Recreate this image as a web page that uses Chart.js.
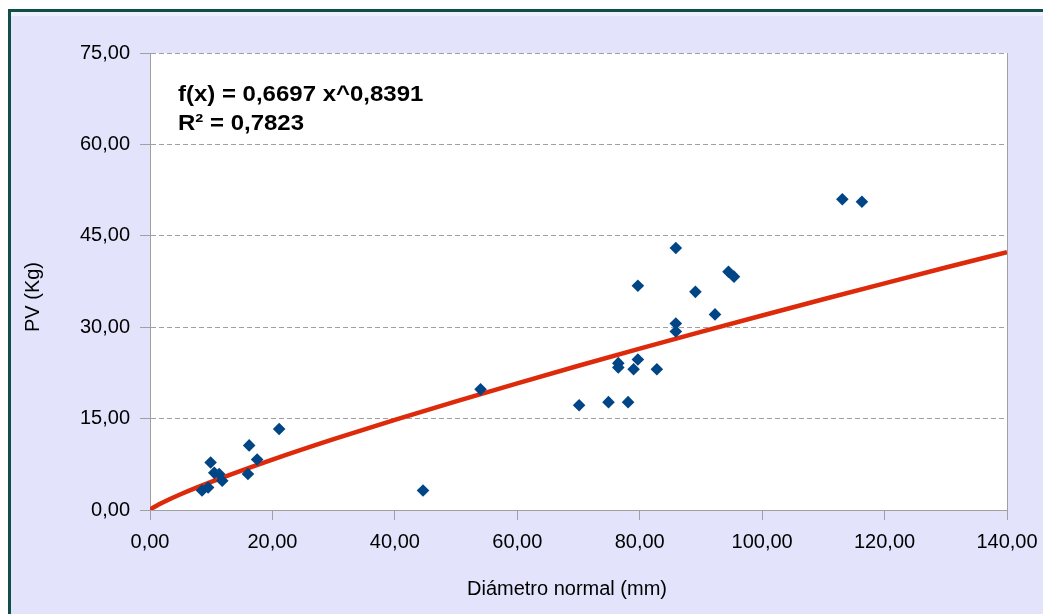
<!DOCTYPE html>
<html>
<head>
<meta charset="utf-8">
<script src="https://cdn.jsdelivr.net/npm/chart.js@4.4.1/dist/chart.umd.min.js"></script>
<style>
  html, body { margin: 0; padding: 0; background: #ffffff; }
  #wrap { width: 1043px; height: 614px; position: relative; }
</style>
</head>
<body>
<div id="wrap"><canvas id="c" width="1043" height="614"></canvas></div>
<script>
// Observed data points: Diámetro normal (mm) vs PV (Kg)
const diametro = [8.5, 9.5, 9.9, 10.5, 11.3, 11.8, 16.0, 16.2, 17.5, 21.1, 44.6, 54.0, 70.1, 74.9, 78.1, 76.5, 76.5, 79.0, 79.7, 82.8, 79.7, 85.9, 85.9, 85.9, 89.1, 92.3, 94.5, 95.4, 113.1, 116.3];
const pv = [3.2, 3.7, 7.8, 6.1, 5.9, 4.8, 5.9, 10.6, 8.3, 13.3, 3.2, 19.8, 17.2, 17.7, 17.7, 24.1, 23.4, 23.1, 24.7, 23.1, 36.8, 43.0, 30.6, 29.3, 35.8, 32.1, 39.1, 38.3, 51.0, 50.6];

// Power trendline
const trendX = [0, 0.5, 1, 2, 5, 10, 20, 30, 40, 50, 60, 70, 80, 90, 100, 110, 120, 130, 140];
const trendY = [0, 0.37, 0.67, 1.20, 2.59, 4.62, 8.27, 11.63, 14.80, 17.84, 20.79, 23.67, 26.48, 29.22, 31.92, 34.58, 37.20, 39.79, 42.33];

// Axis tick values
const yTicks = [0, 15, 30, 45, 60, 75];
const xTicks = [0, 20, 40, 60, 80, 100, 120, 140];

const equationLines = ["f(x) = 0,6697 x^0,8391", "R\u00B2 = 0,7823"];
const xTitle = "Di\u00E1metro normal (mm)";
const yTitle = "PV (Kg)";

const fmt = v => Number(v).toFixed(2).replace('.', ',');

const scatterData = diametro.map((d, i) => ({ x: d, y: pv[i] }));
const trendData = trendX.map((d, i) => ({ x: d, y: trendY[i] }));

const bgPlugin = {
  id: 'bg',
  beforeDraw(chart) {
    const ctx = chart.ctx;
    const W = chart.width, H = chart.height;
    const ca = chart.chartArea;
    ctx.save();
    ctx.fillStyle = '#ffffff';
    ctx.fillRect(0, 0, W, H);
    ctx.fillStyle = '#e3e3fb';
    ctx.fillRect(11, 16, W - 11, H - 16);
    ctx.fillStyle = '#f0f0fd';
    ctx.fillRect(11, 12, W - 11, 4);
    ctx.fillStyle = '#0f4f47';
    ctx.fillRect(8, 9, W - 8, 3);
    ctx.fillRect(8, 9, 3, H - 9);
    ctx.fillStyle = '#ffffff';
    ctx.fillRect(ca.left, ca.top, ca.right - ca.left, ca.bottom - ca.top);
    ctx.restore();
  },
  afterDraw(chart) {
    const ctx = chart.ctx;
    const ca = chart.chartArea;
    ctx.save();
    // right border of plot area
    ctx.strokeStyle = '#a0a0a0';
    ctx.lineWidth = 1;
    ctx.beginPath();
    ctx.moveTo(Math.round(ca.right) + 0.5, ca.top);
    ctx.lineTo(Math.round(ca.right) + 0.5, ca.bottom);
    ctx.stroke();
    // equation text (slightly wide, as in the reference)
    ctx.fillStyle = '#000000';
    ctx.font = 'bold 22px "Liberation Sans", Arial, sans-serif';
    ctx.textBaseline = 'alphabetic';
    ctx.textAlign = 'left';
    ctx.save();
    ctx.translate(178, 101);
    ctx.scale(1.09, 1);
    ctx.fillText(equationLines[0], 0, 0);
    ctx.fillText(equationLines[1], 0, 29);
    ctx.restore();
    // axis titles
    ctx.font = '20px "Liberation Sans", Arial, sans-serif';
    ctx.textAlign = 'center';
    ctx.textBaseline = 'middle';
    ctx.fillText(xTitle, 567, 589);
    ctx.translate(33, 297);
    ctx.rotate(-Math.PI / 2);
    ctx.fillText(yTitle, 0, 0);
    ctx.restore();
  }
};

new Chart(document.getElementById('c'), {
  data: {
    datasets: [
      {
        type: 'line',
        label: 'Tendencia',
        data: trendData,
        borderColor: '#dd2a0a',
        borderWidth: 4.5,
        pointRadius: 0,
        fill: false,
        cubicInterpolationMode: 'monotone',
        order: 2
      },
      {
        type: 'scatter',
        label: 'PV',
        data: scatterData,
        pointStyle: 'rectRot',
        pointRadius: 6.3,
        pointHoverRadius: 6.3,
        backgroundColor: '#004586',
        borderColor: '#004586',
        borderWidth: 0,
        order: 1
      }
    ]
  },
  options: {
    responsive: false,
    animation: false,
    events: [],
    layout: { padding: { left: 0, top: 53, right: 36, bottom: 0 } },
    plugins: {
      legend: { display: false },
      tooltip: { enabled: false },
      title: { display: false }
    },
    scales: {
      x: {
        type: 'linear',
        min: 0,
        max: 140,
        afterBuildTicks: s => { s.ticks = xTicks.map(v => ({ value: v })); },
        afterFit: s => { s.height = 104; s.paddingLeft = 0; s.paddingRight = 0; },
        ticks: {
          callback: v => fmt(v),
          color: '#000000',
          font: { family: '"Liberation Sans", Arial, sans-serif', size: 20 },
          padding: 10,
          maxRotation: 0,
          autoSkip: false
        },
        grid: {
          drawOnChartArea: false,
          drawTicks: true,
          tickLength: 10,
          color: '#a0a0a0',
          lineWidth: 1
        },
        border: { display: true, color: '#a0a0a0', width: 1 }
      },
      y: {
        type: 'linear',
        min: 0,
        max: 75,
        afterBuildTicks: s => { s.ticks = yTicks.map(v => ({ value: v })); },
        afterFit: s => { s.width = 150; s.paddingTop = 0; s.paddingBottom = 0; },
        ticks: {
          callback: v => fmt(v),
          color: '#000000',
          font: { family: '"Liberation Sans", Arial, sans-serif', size: 20 },
          padding: 10,
          autoSkip: false
        },
        grid: {
          drawOnChartArea: true,
          drawTicks: true,
          tickLength: 10,
          color: '#a0a0a0',
          lineWidth: 1,
          tickBorderDash: [],
          tickColor: '#a0a0a0'
        },
        border: { display: true, color: '#a0a0a0', width: 1, dash: [5, 3] }
      }
    }
  },
  plugins: [bgPlugin]
});
</script>
</body>
</html>
